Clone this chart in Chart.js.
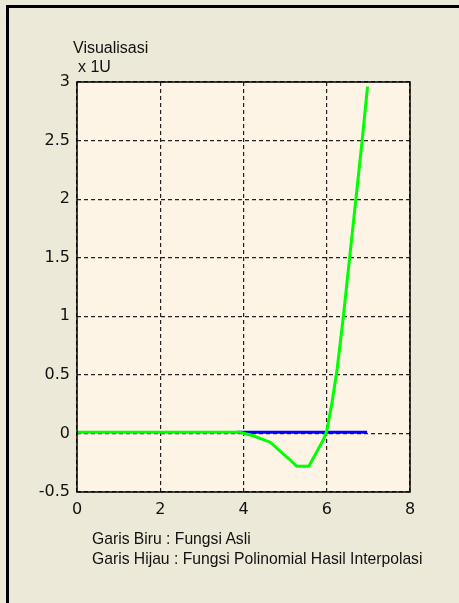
<!DOCTYPE html>
<html>
<head>
<meta charset="utf-8">
<script src="https://cdn.jsdelivr.net/npm/chart.js@4.4.1/dist/chart.umd.min.js"></script>
<style>
  html, body { margin: 0; padding: 0; background: #ECE9D8; }
  #wrap { position: relative; width: 459px; height: 603px; overflow: hidden; background: #ECE9D8; }
  #frame { position: absolute; left: 6px; top: 5px; right: -10px; bottom: -10px;
           border-left: 3px solid #000; border-top: 3px solid #000; }
  canvas { position: absolute; left: 0; top: 0; }
  .lbl { position: absolute; font-family: "Liberation Sans", Arial, sans-serif; font-size: 16px;
         line-height: 16px; color: #111; white-space: nowrap; }
  .note { font-size: 15.7px; }
</style>
</head>
<body>
<div id="wrap">
  <div id="frame"></div>
  <canvas id="c" width="459" height="603"></canvas>
  <div class="lbl" style="left:73px; top:40px;">Visualisasi</div>
  <div class="lbl" style="left:78px; top:59px;">x 1U</div>
  <div class="lbl note" style="left:92px; top:531px;">Garis Biru : Fungsi Asli</div>
  <div class="lbl note" style="left:92px; top:551px;">Garis Hijau : Fungsi Polinomial Hasil Interpolasi</div>
</div>
<script>
// Axis ticks
const xTicks = [0, 2, 4, 6, 8];
const yTicks = [-0.5, 0, 0.5, 1, 1.5, 2, 2.5, 3];

// Original function (blue)
const blueX = [3.85, 4.5, 5.0, 5.5, 6.0, 6.5, 6.97];
const blueY = [0.01, 0.01, 0.01, 0.01, 0.01, 0.01, 0.01];

// Interpolating polynomial (green)
const greenX = [0, 1, 2, 3, 3.92, 4.23, 4.64, 5.07, 5.28, 5.57, 5.91, 6.0, 6.12, 6.25, 6.4, 6.55, 6.7, 6.85, 6.98];
const greenY = [0.01, 0.01, 0.01, 0.01, 0.01, -0.02, -0.075, -0.21, -0.28, -0.28, -0.06, 0.02, 0.25, 0.55, 1.0, 1.5, 2.0, 2.5, 2.96];

const toPts = (xs, ys) => xs.map((x, i) => ({ x: x, y: ys[i] }));

const plotBox = {
  id: 'plotBox',
  beforeDraw(chart) {
    const { ctx, chartArea: a } = chart;
    ctx.save();
    ctx.fillStyle = '#FDF4E6';
    ctx.fillRect(a.left, a.top, a.right - a.left, a.bottom - a.top);
    ctx.restore();
  },
  afterDatasetsDraw(chart) {
    const { ctx, chartArea: a } = chart;
    ctx.save();
    ctx.strokeStyle = '#000';
    ctx.lineWidth = 1.5;
    ctx.strokeRect(a.left, a.top, a.right - a.left, a.bottom - a.top);
    ctx.restore();
  }
};

const tickFont = { family: '"DejaVu Sans", sans-serif', size: 16 };
const fmt = v => String(v);

new Chart(document.getElementById('c'), {
  type: 'scatter',
  data: {
    datasets: [
      { label: 'Fungsi Polinomial', data: toPts(greenX, greenY), showLine: true,
        borderColor: '#00FF00', borderWidth: 3, pointRadius: 0, tension: 0, order: 1 },
      { label: 'Fungsi Asli', data: toPts(blueX, blueY), showLine: true,
        borderColor: '#0000FF', borderWidth: 3, pointRadius: 0, tension: 0, order: 2 }
    ]
  },
  options: {
    responsive: false,
    animation: false,
    events: [],
    layout: { padding: { left: 0, top: 82, right: 49, bottom: 0 } },
    plugins: { legend: { display: false }, tooltip: { enabled: false } },
    scales: {
      x: {
        type: 'linear', min: 0, max: 8,
        afterBuildTicks(s) { s.ticks = xTicks.map(v => ({ value: v })); },
        afterFit(s) { s.height = 111; },
        grid: { color: '#222', lineWidth: 1.2, drawTicks: false },
        border: { display: false, dash: [4, 3] },
        ticks: { font: tickFont, color: '#111', padding: 8, maxRotation: 0, callback: fmt }
      },
      y: {
        type: 'linear', min: -0.5, max: 3,
        afterBuildTicks(s) { s.ticks = yTicks.map(v => ({ value: v })); },
        afterFit(s) { s.width = 77; },
        grid: { color: '#222', lineWidth: 1.2, drawTicks: false },
        border: { display: false, dash: [4, 3] },
        ticks: { font: tickFont, color: '#111', padding: 7, callback: fmt }
      }
    }
  },
  plugins: [plotBox]
});
</script>
</body>
</html>
